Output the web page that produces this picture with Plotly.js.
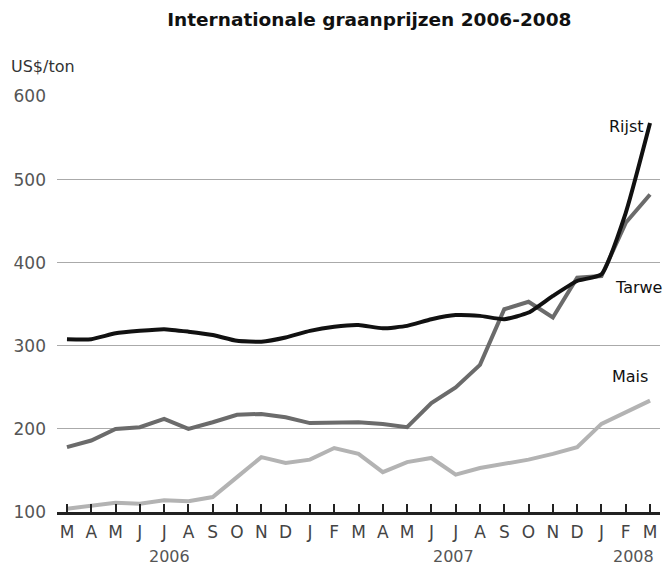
<!DOCTYPE html>
<html>
<head>
<meta charset="utf-8">
<script src="https://cdn.plot.ly/plotly-3.0.1.min.js"></script>
<style>
  html, body { margin: 0; padding: 0; background: #fff; }
  #chart { width: 669px; height: 568px; }
</style>
</head>
<body>
<div id="chart"></div>
<script>
// maanden maart 2006 - maart 2008
const months = ['M', 'A', 'M', 'J', 'J', 'A', 'S', 'O', 'N', 'D', 'J', 'F',
                'M', 'A', 'M', 'J', 'J', 'A', 'S', 'O', 'N', 'D', 'J', 'F', 'M'];
const years = ['2006', '2007', '2008'];
const yearPos = [4.2, 15.9, 23.3];

// prijzen in US$/ton
const rijst = [308, 308, 315, 318, 320, 317, 313, 306, 305, 310, 318, 323,
               325, 321, 324, 332, 337, 336, 332, 340, 360, 378, 386, 460, 568];
const tarwe = [178, 186, 200, 202, 212, 200, 208, 217, 218, 214, 207, 207,
               208, 206, 202, 231, 250, 277, 344, 353, 334, 382, 384, 448, 482];
const mais  = [104, 108, 111, 110, 114, 113, 118, 142, 166, 159, 163, 177,
               170, 148, 160, 165, 145, 153, 158, 163, 170, 178, 206, 220, 234];

const idx = months.map((m, i) => i);

const font = "DejaVu Sans, Verdana, sans-serif";

const data = [
    {x: idx, y: mais, type: 'scatter', mode: 'lines', name: 'Mais',
     line: {color: '#b3b3b3', width: 4}},
    {x: idx, y: tarwe, type: 'scatter', mode: 'lines', name: 'Tarwe',
     line: {color: '#6b6b6b', width: 4}},
    {x: idx, y: rijst, type: 'scatter', mode: 'lines', name: 'Rijst',
     line: {color: '#111111', width: 4, shape: 'spline', smoothing: 0.5}}
];

const annotations = years.map((y, i) => ({
    text: y, x: yearPos[i], y: 0, xref: 'x', yref: 'paper',
    xanchor: 'center', yanchor: 'middle', yshift: -44,
    showarrow: false, font: {family: font, size: 16, color: '#555'}
}));

// serienamen bij de lijnen
annotations.push(
    {text: 'Rijst', x: rijst.length - 1, y: rijst[rijst.length - 1], xref: 'x', yref: 'y',
     xanchor: 'right', yanchor: 'middle', xshift: -4, yshift: -3, showarrow: false,
     font: {family: font, size: 16, color: '#111'}},
    {text: 'Tarwe', x: tarwe.length - 1, y: rijst[22], xref: 'x', yref: 'y',
     xanchor: 'center', yanchor: 'middle', xshift: -12, yshift: -13, showarrow: false,
     font: {family: font, size: 16, color: '#111'}},
    {text: 'Mais', x: mais.length - 1, y: mais[mais.length - 1], xref: 'x', yref: 'y',
     xanchor: 'center', yanchor: 'middle', xshift: -20, yshift: 24, showarrow: false,
     font: {family: font, size: 16, color: '#111'}},
    {text: 'US$/ton', x: 0, xref: 'paper', xshift: -48, y: 1, yref: 'paper', yshift: 30,
     xanchor: 'left', yanchor: 'middle', showarrow: false,
     font: {family: font, size: 16, color: '#333'}}
);

const layout = {
    width: 669,
    height: 568,
    margin: {l: 57, r: 9, t: 96, b: 56},
    paper_bgcolor: '#fff',
    plot_bgcolor: '#fff',
    showlegend: false,
    title: {
        text: '<b>Internationale graanprijzen 2006-2008</b>',
        x: 0.552, xanchor: 'center', y: 0.965, yanchor: 'middle',
        font: {family: font, size: 18.5, color: '#111'}
    },
    xaxis: {
        range: [-0.41, 24.41],
        tickvals: idx,
        ticktext: months,
        ticks: 'inside',
        ticklen: 8,
        tickwidth: 2,
        tickcolor: '#222',
        showline: true,
        linecolor: '#222',
        linewidth: 2.5,
        showgrid: false,
        zeroline: false,
        ticklabelstandoff: 3,
        tickfont: {family: font, size: 17, color: '#444'}
    },
    yaxis: {
        range: [100, 600.6],
        tickvals: [100, 200, 300, 400, 500, 600],
        showgrid: true,
        gridcolor: '#aaaaaa',
        gridwidth: 1,
        zeroline: false,
        showline: false,
        ticks: '',
        ticklabelstandoff: 10,
        tickfont: {family: font, size: 17, color: '#555'}
    },
    annotations: annotations
};

Plotly.newPlot('chart', data, layout, {staticPlot: true, displayModeBar: false});
</script>
</body>
</html>
